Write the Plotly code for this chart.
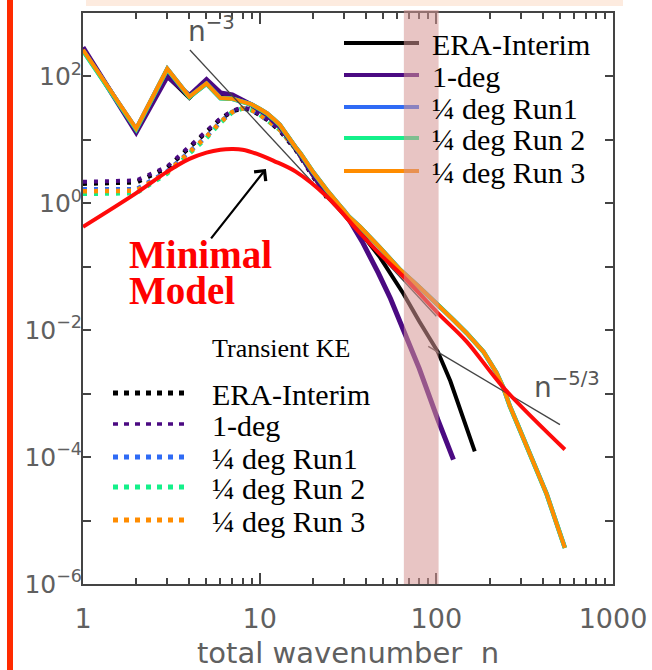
import plotly.graph_objects as go
import numpy as np

# ---------------- data ----------------
# Total KE spectra (solid)
n_era = [1, 2, 3, 4, 5, 6, 7, 8, 9, 10, 11, 12, 13, 16, 17, 20, 24, 32, 37, 48, 55, 65, 80, 102, 120, 136, 150, 165]
e_era = [269, 14.5, 100, 45.7, 83.2, 52.5, 50.1, 41.7, 36.3, 30.2, 25.7, 20.0, 16.6, 7.24, 5.75, 2.95, 1.48,
         0.537, 0.355, 0.141, 0.0794, 0.038, 0.0138, 0.00457, 0.00158, 0.000562, 0.000263, 0.000123]

n_1deg = [1, 2, 3, 4, 5, 6, 7, 8, 9, 10, 11, 12, 13, 16, 17, 20, 24, 30, 32, 38, 47, 55, 65, 80, 102, 115, 125]
e_1deg = [288, 13.2, 100, 50.1, 89.1, 55.0, 51.3, 42.7, 35.5, 29.5, 25.1, 19.5, 16.2, 7.41, 5.75, 2.88, 1.32,
          0.76, 0.56, 0.251, 0.0794, 0.0316, 0.0102, 0.00251, 0.000389, 0.000158, 9.1e-5]

n_qdeg = [1, 2, 3, 4, 5, 6, 7, 8, 9, 10, 11, 12, 13, 16, 17, 20, 24, 32, 37, 48, 62, 80, 92, 102, 125, 148,
          185, 219, 239, 261, 290, 324, 370, 421, 480, 534]
e_run1 = [258, 14.8, 131, 47.5, 77.0, 45.5, 44.5, 39.6, 36.2, 30.8, 26.2, 21.3, 17.3, 7.6, 6.15, 3.15, 1.61,
          0.615, 0.426, 0.200, 0.0910, 0.0478, 0.0338, 0.0250, 0.0145, 0.00910, 0.00456, 0.00213, 0.00126,
          0.000630, 0.000315, 0.000148, 6.3e-5, 2.63e-5, 8.9e-6, 3.72e-6]
e_run2 = [255, 14.6, 130, 47.3, 76.8, 45.3, 44.4, 39.5, 36.1, 30.7, 26.1, 21.2, 17.2, 7.55, 6.12, 3.14, 1.61,
          0.614, 0.425, 0.199, 0.0908, 0.0477, 0.0338, 0.0250, 0.0145, 0.00909, 0.00455, 0.00213, 0.00126,
          0.000629, 0.000315, 0.000147, 6.3e-5, 2.62e-5, 8.9e-6, 3.70e-6]
e_run3 = [263, 15.1, 132, 47.9, 77.6, 45.7, 44.7, 39.8, 36.3, 30.9, 26.3, 21.4, 17.4, 7.6, 6.17, 3.16, 1.62,
          0.617, 0.427, 0.200, 0.0912, 0.0479, 0.0339, 0.0251, 0.0145, 0.00912, 0.00457, 0.00214, 0.00126,
          0.000631, 0.000316, 0.000148, 6.31e-5, 2.63e-5, 8.9e-6, 3.72e-6]

# Transient KE spectra (dotted)
n_tr = [1, 2, 3, 4, 5, 6, 7, 8, 9, 10, 11, 12, 13, 16, 20, 24]
t_era = [2.04, 2.14, 3.63, 7.59, 13.2, 21.4, 28.2, 31.6, 29.5, 25.1, 20.9, 17.0, 14.1, 7.0, 2.7, 1.23]
t_1deg = [2.19, 2.29, 3.8, 7.94, 13.5, 21.9, 28.8, 32.4, 30.2, 25.7, 21.4, 17.4, 14.5, 7.08, 2.75, 1.26]
t_run1 = [1.66, 1.66, 3.2, 6.4, 11.3, 19.2, 27.6, 31.6, 29.5, 25.1, 20.9, 17.0, 14.5, 7.2, 2.8, 1.3]
t_run2 = [1.41, 1.45, 2.95, 6.0, 10.7, 18.6, 27.2, 31.4, 29.4, 25.0, 20.8, 16.9, 14.4, 7.2, 2.8, 1.3]
t_run3 = [1.55, 1.58, 3.09, 6.31, 11.2, 19.1, 27.5, 31.6, 29.5, 25.1, 20.9, 17.0, 14.5, 7.2, 2.8, 1.3]

# Minimal model
n_min = [1, 2, 3, 4, 5, 6, 7, 8, 10, 12, 16, 24, 37, 48, 65, 102, 148, 239, 534]
e_min = [0.427, 1.45, 3.16, 5.01, 6.31, 7.0, 7.16, 7.0, 5.81, 4.68, 3.16, 1.28, 0.339, 0.158, 0.0703,
         0.0186, 0.00667, 0.00126, 0.000132]

# Reference slopes
n_slope3 = [4.03, 100]
e_slope3 = [261, 0.0166]
n_slope53 = [90, 501]
e_slope53 = [0.00556, 0.000325]

# Highlighted wavenumber band
band_n = [65.5, 103]

# Arrow target (head) on the minimal-model curve
arrow_n = 10.85
arrow_e = 3.49

legend_names = ["ERA-Interim", "1-deg", "¼ deg Run1", "¼ deg Run 2", "¼ deg Run 3"]
colors = ["#000000", "#4b0a82", "#2f6bf5", "#14f08a", "#ff8c00"]

x_tickvals = [1, 10, 100, 1000]
x_ticktext = ["1", "10", "100", "1000"]
x_minor = [2, 3, 4, 5, 6, 7, 8, 9, 20, 30, 40, 50, 60, 70, 80, 90, 200, 300, 400, 500, 600, 700, 800, 900]
y_tickvals = [1e-6, 1e-5, 1e-4, 1e-3, 1e-2, 1e-1, 1, 10, 100, 1000]
y_ticktext = ["10<sup>−6</sup>", " ", "10<sup>−4</sup>", " ", "10<sup>−2</sup>", " ", "10<sup>0</sup>", " ",
              "10<sup>2</sup>", " "]

# ---------------- figure ----------------
fig = go.Figure()

dotted = [t_era, t_1deg, t_run1, t_run2, t_run3]
dot_w = [4.5, 4, 4.5, 4.5, 4.5]
for i, vals in enumerate(dotted):
    fig.add_trace(go.Scatter(x=n_tr, y=vals, mode="lines",
                             line=dict(color=colors[i], width=dot_w[i], dash="4px,7px"),
                             name="Transient " + legend_names[i]))

solid = [(n_era, e_era), (n_1deg, e_1deg), (n_qdeg, e_run1), (n_qdeg, e_run2), (n_qdeg, e_run3)]
sol_w = [4, 5, 4.5, 4.5, 4]
for i, (xs, ys) in enumerate(solid):
    fig.add_trace(go.Scatter(x=xs, y=ys, mode="lines",
                             line=dict(color=colors[i], width=sol_w[i]), name=legend_names[i]))

fig.add_trace(go.Scatter(x=n_slope3, y=e_slope3, mode="lines", line=dict(color="#444444", width=1.3)))
fig.add_trace(go.Scatter(x=n_slope53, y=e_slope53, mode="lines", line=dict(color="#444444", width=1.3)))

fig.add_trace(go.Scatter(x=n_min, y=e_min, mode="lines", line=dict(color="#ff0a0a", width=4, shape="spline"),
                         name="Minimal Model"))

# ---------------- layout ----------------
W, H = 652, 670
L, R, T, B = 83, 39, 13, 86
PW, PH = W - L - R, H - T - B


def px(xp):
    return (xp - L) / PW


def py(yp):
    return (H - B - yp) / PH


xfont = dict(family="DejaVu Sans", size=27, color="#606060")
yfont = dict(family="DejaVu Sans", size=25, color="#606060")
tfont = dict(family="DejaVu Sans", size=29, color="#606060")

fig.update_layout(
    width=W, height=H, margin=dict(l=L, r=R, t=T, b=B, autoexpand=False),
    paper_bgcolor="white", plot_bgcolor="white", showlegend=False,
    xaxis=dict(type="log", range=[0, 3], tickvals=x_tickvals, ticktext=x_ticktext, automargin=False,
               ticks="inside", ticklen=11, tickwidth=1.5, tickcolor="#444",
               showline=True, linecolor="#444", linewidth=2, mirror="ticks",
               showgrid=False, zeroline=False, tickfont=xfont, ticklabelstandoff=10,
               minor=dict(tickmode="array", tickvals=x_minor, ticks="inside", ticklen=6,
                          tickwidth=1.5, tickcolor="#444", showgrid=False),
               title=dict(text="total wavenumber  n", font=tfont, standoff=10)),
    yaxis=dict(type="log", range=[-6, 3], tickvals=y_tickvals, ticktext=y_ticktext, automargin=False,
               ticks="inside", ticklen=8, tickwidth=1.5, tickcolor="#444",
               showline=True, linecolor="#444", linewidth=2, mirror="ticks",
               showgrid=False, zeroline=False, tickfont=yfont, ticklabelstandoff=-6),
)

shapes = []
# page decorations
shapes.append(dict(type="rect", xref="paper", yref="paper", x0=px(7), x1=px(13), y0=py(H), y1=py(0),
                   fillcolor="#ff2a00", line=dict(width=0), layer="above"))
shapes.append(dict(type="rect", xref="paper", yref="paper", x0=px(86), x1=px(623), y0=py(6), y1=py(0),
                   fillcolor="#fdebdf", line=dict(width=0), layer="above"))

# legend samples
leg1_y = [43, 75, 107, 138, 171]
leg2_y = [393, 424, 457, 487, 520]
for i in range(5):
    shapes.append(dict(type="line", xref="paper", yref="paper", x0=px(344), x1=px(419),
                       y0=py(leg1_y[i]), y1=py(leg1_y[i]),
                       line=dict(color=colors[i], width=4), layer="above"))
    shapes.append(dict(type="line", xref="paper", yref="paper", x0=px(113), x1=px(190),
                       y0=py(leg2_y[i]), y1=py(leg2_y[i]),
                       line=dict(color=colors[i], width=5 if i != 1 else 3.5, dash="5px,6px"), layer="above"))

# shaded wavenumber band
shapes.append(dict(type="rect", xref="x", yref="paper", x0=band_n[0], x1=band_n[1], y0=0, y1=py(10),
                   fillcolor="rgba(214,150,148,0.55)", line=dict(width=0), layer="above"))
fig.update_layout(shapes=shapes)

ann = []
serif = "Liberation Serif"
for i in range(5):
    ann.append(dict(xref="paper", yref="paper", x=px(430), y=py(leg1_y[i] + 1), xanchor="left", yanchor="middle",
                    text=legend_names[i], showarrow=False, font=dict(family=serif, size=30, color="black")))
    ann.append(dict(xref="paper", yref="paper", x=px(210), y=py(leg2_y[i] + 1), xanchor="left", yanchor="middle",
                    text=legend_names[i], showarrow=False, font=dict(family=serif, size=30, color="black")))
ann.append(dict(xref="paper", yref="paper", x=px(210), y=py(348), xanchor="left", yanchor="middle",
                text="Transient KE", showarrow=False, font=dict(family=serif, size=26, color="black")))
ann.append(dict(xref="paper", yref="paper", x=px(127), y=py(255), xanchor="left", yanchor="middle",
                text="<b>Minimal</b>", showarrow=False, font=dict(family=serif, size=39, color="#ff0000")))
ann.append(dict(xref="paper", yref="paper", x=px(127), y=py(290), xanchor="left", yanchor="middle",
                text="<b>Model</b>", showarrow=False, font=dict(family=serif, size=39, color="#ff0000")))
ann.append(dict(xref="paper", yref="paper", x=px(186), y=py(30), xanchor="left", yanchor="middle",
                text="n<sup>−3</sup>", showarrow=False, font=dict(family="DejaVu Sans", size=28, color="#555")))
ann.append(dict(xref="paper", yref="paper", x=px(532), y=py(385), xanchor="left", yanchor="middle",
                text="n<sup>−5/3</sup>", showarrow=False, font=dict(family="DejaVu Sans", size=28, color="#555")))
ann.append(dict(xref="x", yref="y", x=np.log10(arrow_n), y=np.log10(arrow_e), text="", showarrow=True,
                arrowhead=4, arrowsize=1.3, arrowwidth=2.2, arrowcolor="black", ax=-56, ay=71))
fig.update_layout(annotations=ann)

fig.write_html("out.html", config={"displayModeBar": False},
               post_script="document.body.style.margin='0px';")
